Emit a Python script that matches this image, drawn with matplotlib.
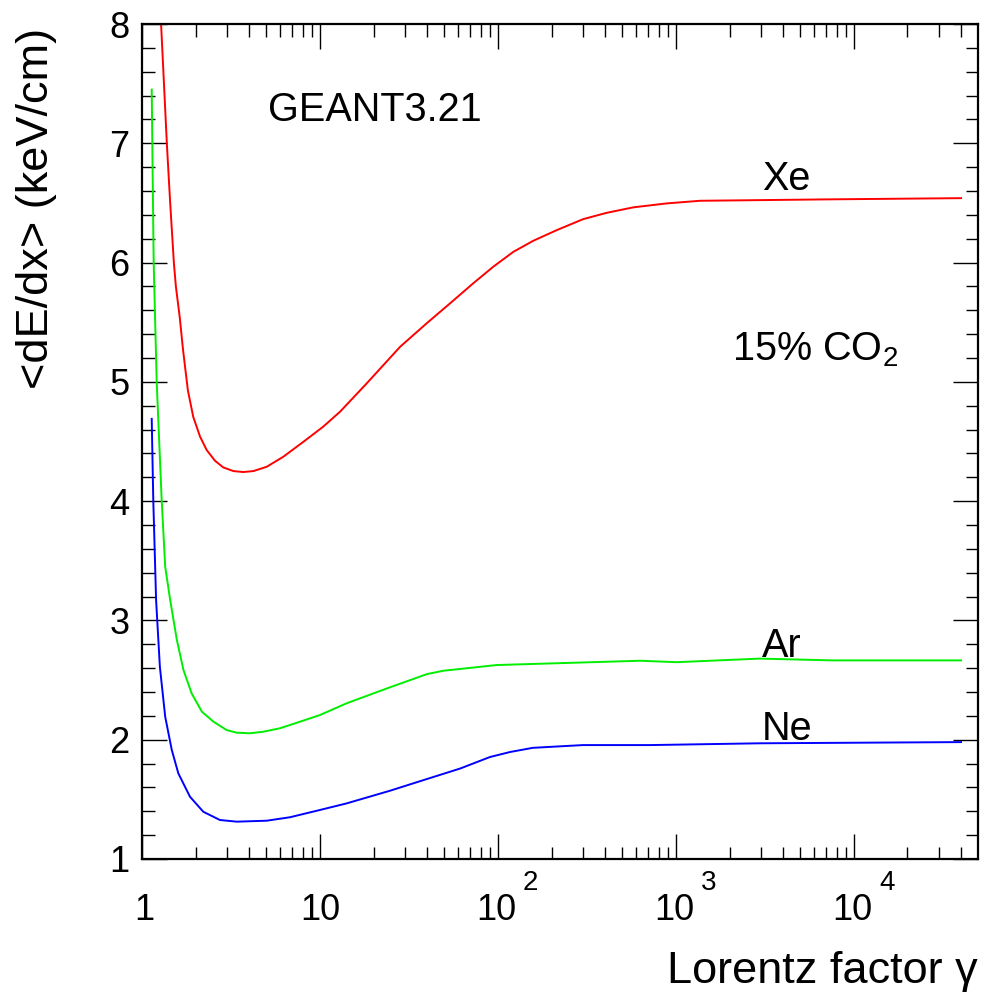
import matplotlib
matplotlib.use("Agg")
import matplotlib.pyplot as plt
import matplotlib.transforms as mtransforms
from matplotlib.ticker import FixedLocator, NullFormatter, LogLocator, MultipleLocator

plt.rcParams['font.family'] = ['Liberation Sans', 'DejaVu Sans']
plt.rcParams['mathtext.fontset'] = 'custom'
plt.rcParams['mathtext.rm'] = 'Liberation Sans'
plt.rcParams['mathtext.it'] = 'Liberation Sans'

# Data (Lorentz factor gamma, <dE/dx> in keV/cm)
xe_gamma = [1.28, 1.38, 1.44, 1.51, 1.55, 1.63, 1.70, 1.81, 1.94, 2.12, 2.31, 2.57, 2.86, 3.26, 3.71,
            4.22, 5.02, 6.22, 8.06, 10.4, 12.95, 18.3, 28.2, 39.7, 53.8, 72.6, 94.1, 122, 158,
            214, 301, 408, 576, 887, 1364, 7300, 40000]
xe_dedx = [8.0, 6.99, 6.50, 6.0, 5.80, 5.54, 5.27, 4.93, 4.707, 4.54, 4.428, 4.339, 4.283, 4.252, 4.244,
           4.252, 4.288, 4.372, 4.497, 4.623, 4.749, 4.987, 5.294, 5.49, 5.658, 5.826, 5.965, 6.09, 6.183,
           6.272, 6.364, 6.417, 6.463, 6.496, 6.518, 6.53, 6.54]

ar_gamma = [1.134, 1.143, 1.163, 1.21, 1.29, 1.35, 1.44, 1.57, 1.71, 1.90, 2.17, 2.52, 2.99, 3.40,
            4.04, 4.80, 5.96, 7.72, 10.0, 14.1, 24.7, 39.9, 49.2, 98.3, 628, 1010, 2960, 7600, 40000]
ar_dedx = [7.45, 6.99, 6.0, 4.99, 4.01, 3.45, 3.171, 2.836, 2.584, 2.389, 2.235, 2.151, 2.081, 2.059,
           2.054, 2.067, 2.096, 2.151, 2.207, 2.305, 2.439, 2.55, 2.578, 2.626, 2.662, 2.65, 2.68, 2.665, 2.665]

ne_gamma = [1.134, 1.157, 1.20, 1.26, 1.35, 1.47, 1.60, 1.86, 2.21, 2.74, 3.40, 5.02, 6.78, 10.0,
            14.1, 24.7, 37.9, 61.2, 90.2, 117, 157, 300, 715, 2960, 40000]
ne_dedx = [4.69, 4.01, 3.171, 2.612, 2.193, 1.914, 1.718, 1.522, 1.396, 1.327, 1.313, 1.321, 1.350, 1.411,
           1.466, 1.572, 1.66, 1.758, 1.855, 1.897, 1.932, 1.955, 1.955, 1.97, 1.98]

x_major = [1, 10, 100, 1000, 10000]
x_base = ['1', '10', '10', '10', '10']
x_exp = ['', '', '2', '3', '4']

fig = plt.figure(figsize=(9.85, 10.02), dpi=100)
ax = fig.add_axes([142/985, 1-859/1002, (978-142)/985, (859-24)/1002])

ax.plot(xe_gamma, xe_dedx, color='#ff0000', lw=1.4)
ax.plot(ar_gamma, ar_dedx, color='#00ee00', lw=1.4)
ax.plot(ne_gamma, ne_dedx, color='#0000ff', lw=1.4)

ax.set_xscale('log')
ax.set_xlim(1, 4.98e4)
ax.set_ylim(1, 8)

ax.xaxis.set_major_locator(FixedLocator(x_major))
ax.xaxis.set_major_formatter(NullFormatter())
ax.xaxis.set_minor_locator(LogLocator(base=10, subs=range(2, 10), numticks=20))
ax.xaxis.set_minor_formatter(NullFormatter())
ax.yaxis.set_major_locator(MultipleLocator(1))
ax.yaxis.set_minor_locator(MultipleLocator(0.2))

ax.tick_params(which='both', direction='in', top=True, right=True, width=1.0, color='black')
ax.tick_params(which='major', length=18)
ax.tick_params(which='minor', length=9)
ax.tick_params(axis='y', which='major', labelsize=26, pad=9)
for s in ax.spines.values():
    s.set_linewidth(1.6)

# x tick labels drawn as base + raised exponent (ROOT style)
blend = mtransforms.blended_transform_factory(ax.transData, ax.transAxes)
for v, b, e in zip(x_major, x_base, x_exp):
    if e:
        tb = mtransforms.offset_copy(blend, fig=fig, x=-2, y=-61, units='dots')
        ax.text(v, 0, b, transform=tb, fontsize=26, ha='center', va='baseline', clip_on=False)
        te = mtransforms.offset_copy(blend, fig=fig, x=25, y=-31, units='dots')
        ax.text(v, 0, e, transform=te, fontsize=20, ha='left', va='baseline', clip_on=False)
    else:
        tb = mtransforms.offset_copy(blend, fig=fig, x=2 if b == '1' else 0, y=-61, units='dots')
        ax.text(v, 0, b, transform=tb, fontsize=26, ha='center', va='baseline', clip_on=False)

ax.text(5.1, 7.19, 'GEANT3.21', fontsize=28.5, va='baseline', ha='left')
ax.text(3040, 6.61, 'Xe', fontsize=28.5, va='baseline', ha='left')
ax.text(3040, 2.69, 'Ar', fontsize=28.5, va='baseline', ha='left')
ax.text(3040, 2.0, 'Ne', fontsize=28.5, va='baseline', ha='left')
ax.text(2065, 5.18, r'15% CO$_{2}$', fontsize=28.5, va='baseline', ha='left')

fig.text(37/985, 1-28/1002, '<dE/dx> (keV/cm)', rotation=90, fontsize=32.5, ha='center', va='top')
fig.text(978/985, 1-983/1002, 'Lorentz factor γ', fontsize=32.5, ha='right', va='baseline')

fig.savefig('out.png', dpi=100)
